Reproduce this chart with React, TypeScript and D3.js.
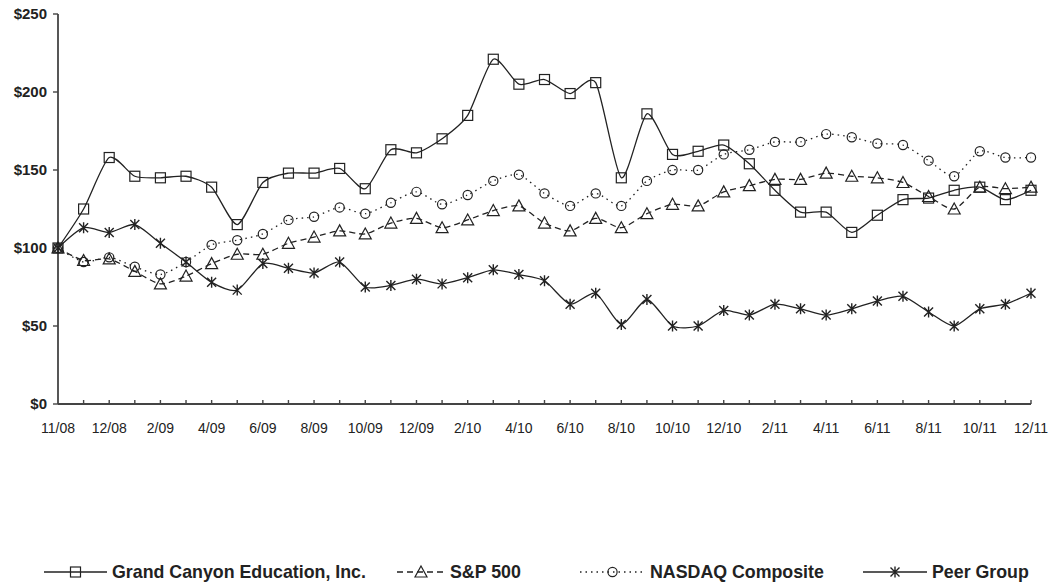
import React, { useEffect, useRef } from 'react';
import * as d3 from 'd3';

// 39 observation points, labels every other point
const tickLabels = ['11/08', '12/08', '2/09', '4/09', '6/09', '8/09', '10/09', '12/09', '2/10', '4/10',
  '6/10', '8/10', '10/10', '12/10', '2/11', '4/11', '6/11', '8/11', '10/11', '12/11'];

const grandCanyon = [100, 125, 158, 146, 145, 146, 139, 115, 142, 148, 148, 151, 138, 163, 161, 170, 185, 221,
  205, 208, 199, 206, 145, 186, 160, 162, 166, 154, 137, 123, 123, 110, 121, 131, 132, 137, 139, 131, 137];
const sp500 = [100, 92, 93, 85, 77, 82, 90, 96, 96, 103, 107, 111, 109, 116, 119, 113, 118, 124,
  127, 116, 111, 119, 113, 122, 128, 127, 136, 140, 144, 144, 148, 146, 145, 142, 133, 125, 139, 138, 139];
const nasdaq = [100, 91, 94, 88, 83, 91, 102, 105, 109, 118, 120, 126, 122, 129, 136, 128, 134, 143,
  147, 135, 127, 135, 127, 143, 150, 150, 160, 163, 168, 168, 173, 171, 167, 166, 156, 146, 162, 158, 158];
const peerGroup = [100, 113, 110, 115, 103, 91, 78, 73, 90, 87, 84, 91, 75, 76, 80, 77, 81, 86,
  83, 79, 64, 71, 51, 67, 50, 50, 60, 57, 64, 61, 57, 61, 66, 69, 59, 50, 61, 64, 71];

const yTicks = [0, 50, 100, 150, 200, 250];

type Marker = 'square' | 'triangle' | 'circle' | 'star';

const seriesList: { name: string; values: number[]; dash: string; marker: Marker }[] = [
  { name: 'Grand Canyon Education, Inc.', values: grandCanyon, dash: '', marker: 'square' },
  { name: 'S&P 500', values: sp500, dash: '6,4', marker: 'triangle' },
  { name: 'NASDAQ Composite', values: nasdaq, dash: '1.5,4', marker: 'circle' },
  { name: 'Peer Group', values: peerGroup, dash: '', marker: 'star' },
];

const ink = '#222';

function drawMarker(g: d3.Selection<SVGGElement, unknown, null, undefined>, type: Marker, x: number, y: number) {
  if (type === 'square') {
    g.append('rect').attr('x', x - 5).attr('y', y - 5).attr('width', 10).attr('height', 10)
      .attr('fill', 'none').attr('stroke', ink).attr('stroke-width', 1.2);
  } else if (type === 'triangle') {
    g.append('path').attr('d', `M${x},${y - 6}L${x + 6},${y + 5}L${x - 6},${y + 5}Z`)
      .attr('fill', 'none').attr('stroke', ink).attr('stroke-width', 1.2);
  } else if (type === 'circle') {
    g.append('circle').attr('cx', x).attr('cy', y).attr('r', 4.6)
      .attr('fill', 'none').attr('stroke', ink).attr('stroke-width', 1.2);
  } else {
    g.append('path')
      .attr('d', `M${x - 4.5},${y - 4.5}L${x + 4.5},${y + 4.5}M${x - 4.5},${y + 4.5}L${x + 4.5},${y - 4.5}M${x},${y - 5.5}L${x},${y + 5.5}`)
      .attr('stroke', ink).attr('stroke-width', 1.4);
  }
}

const App: React.FC = () => {
  const svgRef = useRef<SVGSVGElement>(null);

  useEffect(() => {
    if (!svgRef.current) return;
    const svg = d3.select(svgRef.current);
    svg.selectAll('*').remove();

    const x = d3.scaleLinear().domain([0, grandCanyon.length - 1]).range([58, 1031]);
    const y = d3.scaleLinear().domain([0, 250]).range([404, 14]);

    // y axis
    svg.append('line').attr('x1', 58).attr('x2', 58).attr('y1', y(250)).attr('y2', y(0))
      .attr('stroke', '#444').attr('stroke-width', 1.8);
    const yg = svg.append('g');
    yTicks.forEach(t => {
      yg.append('line').attr('x1', 53).attr('x2', 58).attr('y1', y(t)).attr('y2', y(t))
        .attr('stroke', '#444').attr('stroke-width', 1.4);
      yg.append('text').attr('x', 47).attr('y', y(t)).attr('dy', '0.35em')
        .attr('text-anchor', 'end').style('font-family', 'Arial, "Liberation Sans", sans-serif')
        .style('font-size', '15px').style('font-weight', 'bold').attr('fill', ink)
        .text(`$${t}`);
    });

    // x axis
    svg.append('line').attr('x1', 58).attr('x2', x(grandCanyon.length - 1)).attr('y1', y(0)).attr('y2', y(0))
      .attr('stroke', '#444').attr('stroke-width', 1.8);
    d3.range(1, grandCanyon.length).forEach(i => {
      svg.append('line').attr('x1', x(i)).attr('x2', x(i)).attr('y1', y(0)).attr('y2', y(0) - 4)
        .attr('stroke', '#444').attr('stroke-width', 1.4);
    });
    tickLabels.forEach((lab, k) => {
      svg.append('text').attr('x', x(k * 2)).attr('y', 433).attr('text-anchor', 'middle')
        .style('font-family', 'Arial, "Liberation Sans", sans-serif').style('font-size', '14px')
        .attr('fill', ink).text(lab);
    });

    const line = d3.line<number>()
      .x((_, i) => x(i))
      .y(d => y(d))
      .curve(d3.curveCardinal.tension(0.3));

    seriesList.forEach(s => {
      svg.append('path').datum(s.values).attr('d', line)
        .attr('fill', 'none').attr('stroke', ink).attr('stroke-width', 1.3)
        .attr('stroke-dasharray', s.dash || null);
      const mg = svg.append('g');
      s.values.forEach((v, i) => drawMarker(mg, s.marker, x(i), y(v)));
    });

    // legend
    const legendPos = [
      { lx: 44, tx: 112 },
      { lx: 397, tx: 450 },
      { lx: 580, tx: 650 },
      { lx: 863, tx: 932 },
    ];
    const ly = 572;
    seriesList.forEach((s, i) => {
      const { lx, tx } = legendPos[i];
      const lg = svg.append('g');
      lg.append('line').attr('x1', lx).attr('x2', tx - 5).attr('y1', ly).attr('y2', ly)
        .attr('stroke', ink).attr('stroke-width', 1.5).attr('stroke-dasharray', s.dash || null);
      drawMarker(lg, s.marker, (lx + tx - 5) / 2, ly);
      lg.append('text').attr('x', tx).attr('y', ly).attr('dy', '0.35em')
        .style('font-family', 'Arial, "Liberation Sans", sans-serif').style('font-size', '17.8px')
        .style('font-weight', 'bold').attr('fill', ink).text(s.name);
    });
  }, []);

  return (
    <svg ref={svgRef} width={1056} height={587}
      style={{ position: 'absolute', left: 0, top: 0, background: '#fff' }} />
  );
};

export default App;
